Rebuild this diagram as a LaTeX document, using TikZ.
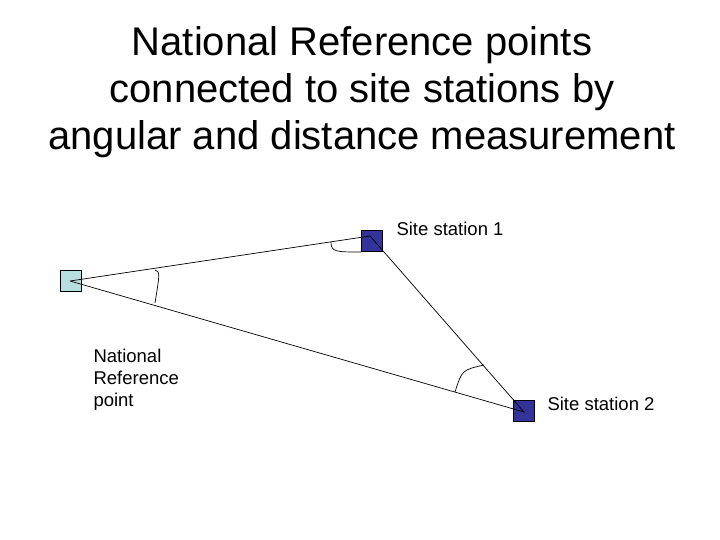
\documentclass[tikz,border=0pt]{standalone}
\usepackage{fontspec}
\setmainfont{Liberation Sans}
\definecolor{navy}{HTML}{333399}
\definecolor{pale}{HTML}{B8DEE2}
\begin{document}
\begin{tikzpicture}[x=1pt,y=-1pt,
  sq/.style={draw=black,line width=0.8pt,minimum size=21pt,inner sep=0pt},
  lbl/.style={font=\fontsize{18.5}{22}\selectfont,align=left},
  ln/.style={line width=0.7pt}]
\useasboundingbox (0,0) rectangle (720,540);
\node[font=\fontsize{40}{47}\selectfont,align=center] (title) at (362,92) {National Reference points\\connected to site stations by\\angular and distance measurement};
\node[sq,fill=pale] (n) at (71,281) {};
\node[sq,fill=navy] (s1) at (372,241) {};
\node[sq,fill=navy] (s2) at (524,411) {};
\coordinate (nc) at (70,281);
\coordinate (s1c) at (370,236);
\coordinate (s2c) at (524,412);
\draw[ln] (nc) -- (s1c) -- (s2c) -- (nc);
\draw[ln] (155,270) .. controls (160,272) .. (155,303);
\draw[ln] (331,242) .. controls (331,252) and (336,252) .. (361,252);
\draw[ln] (484,365) .. controls (462,370) .. (455,392);
\node[lbl,anchor=west] (l1) at (393,229) {Site station 1};
\node[lbl,anchor=west] (l2) at (544,404) {Site station 2};
\node[lbl,anchor=north west] (l3) at (90,346) {National\\Reference\\point};
\end{tikzpicture}
\end{document}
